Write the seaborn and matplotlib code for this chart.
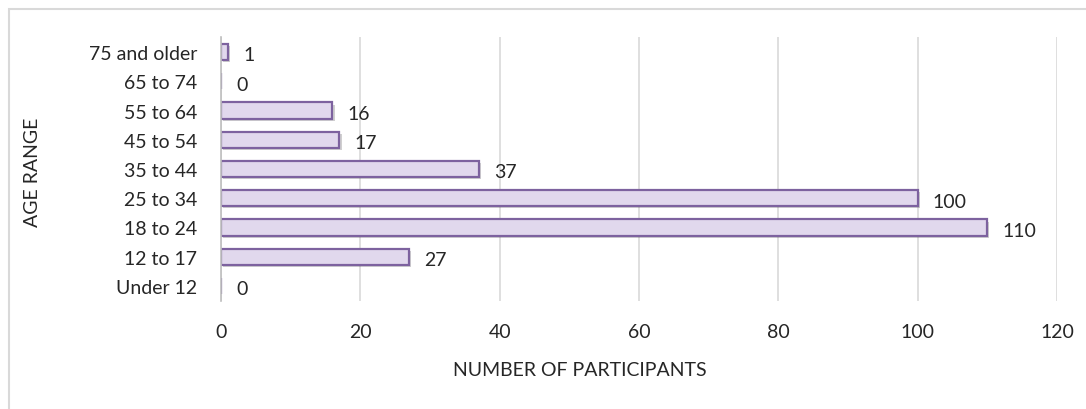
import matplotlib
matplotlib.use("Agg")
import matplotlib.pyplot as plt
import seaborn as sns
import pandas as pd
from matplotlib.patches import Rectangle
import matplotlib.patheffects as pe

categories = ["75 and older", "65 to 74", "55 to 64", "45 to 54", "35 to 44",
              "25 to 34", "18 to 24", "12 to 17", "Under 12"]
participants = [1, 0, 16, 17, 37, 100, 110, 27, 0]
x_ticks = [0, 20, 40, 60, 80, 100, 120]

df = pd.DataFrame({"age": categories, "n": participants})

sns.set_theme(style="white")
plt.rcParams['font.family'] = ['Lato', 'DejaVu Sans']

fig = plt.figure(figsize=(10.86, 4.10), dpi=100)
ax_h = (301.6 - 38.4)
ax = fig.add_axes([221/1086, 1-301.6/410, (1057-221)/1086, ax_h/410])

sns.barplot(data=df, y="age", x="n", order=categories, ax=ax,
            color="#e1d8ed", edgecolor="#7d629f", linewidth=1.6,
            width=0.55, saturation=1)
for p in ax.patches:
    p.set_path_effects([pe.SimplePatchShadow(offset=(1.5, -1.5), alpha=0.25), pe.Normal()])

for i, v in enumerate(participants):
    ax.annotate(str(v), xy=(v, i), xytext=(11, -2), textcoords="offset points",
                va="center", ha="left", fontsize=14, color="#262626")

ax.set_xlim(0, 120)
ax.set_ylim(len(categories) - 0.5, -0.5)
ax.set_xticks(x_ticks)
ax.xaxis.grid(True, color="#d9d9d9", linewidth=1.2)
ax.set_axisbelow(True)
for s in ["top", "right", "bottom"]:
    ax.spines[s].set_visible(False)
ax.spines["left"].set_color("#bfbfbf")
ax.spines["left"].set_linewidth(1.2)

ax.tick_params(axis="y", length=0, pad=17, labelsize=14, labelcolor="#262626")
ax.tick_params(axis="x", length=0, pad=16, labelsize=14, labelcolor="#262626")
ax.set_xlabel("NUMBER OF PARTICIPANTS", fontsize=14, color="#262626")
ax.set_ylabel("AGE RANGE", fontsize=14, color="#262626")
ax.xaxis.set_label_coords((580 - 221) / 836, (301.6 - 371) / ax_h)
ax.xaxis.label.set_va("center")
ax.yaxis.set_label_coords((33 - 221) / 836, (301.6 - 172) / ax_h)
ax.yaxis.label.set_va("center")

fig.patches.append(Rectangle((9/1086, -0.1), 1.2, 1.1 - 10/410,
                             transform=fig.transFigure, fill=False,
                             edgecolor="#d9d9d9", linewidth=1.5))

fig.savefig("out.png", dpi=100)
